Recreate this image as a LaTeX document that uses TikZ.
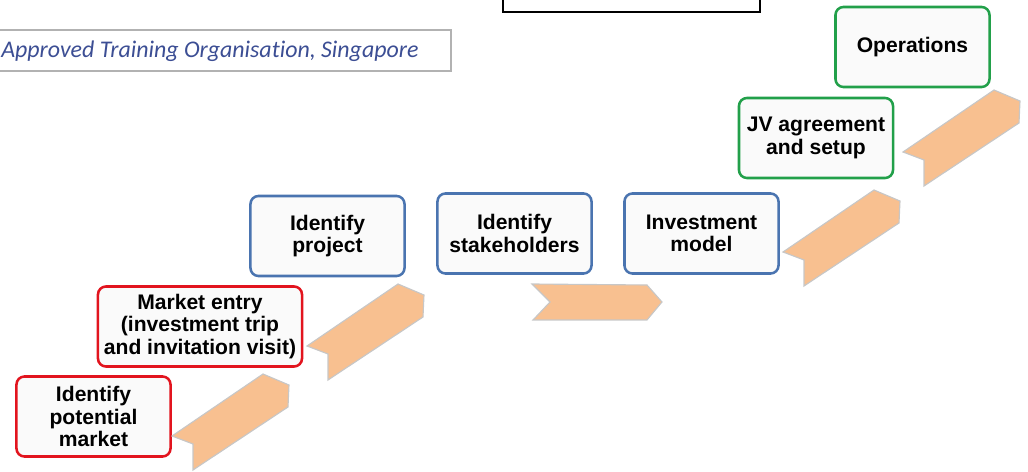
\documentclass[tikz,border=0pt]{standalone}
\usepackage{fontspec}
\setmainfont{Liberation Sans}
\newfontfamily\atofont[Ligatures=NoCommon]{Carlito}
\usetikzlibrary{positioning}

\definecolor{stepred}{RGB}{226,20,30}
\definecolor{stepblue}{RGB}{74,116,176}
\definecolor{stepgreen}{RGB}{34,160,74}
\definecolor{chevfill}{RGB}{248,192,144}
\definecolor{atoblue}{RGB}{60,78,148}

\tikzset{
  stage/.style={draw, rounded corners=0.2cm, line width=1.8pt, fill=black!2,
    minimum width=3.85cm, minimum height=2.0cm, align=center, inner sep=0pt,
    font=\fontsize{15}{16}\selectfont\bfseries},
  chev/.style={fill=chevfill, draw=black!22, line width=0.8pt, line join=miter}
}
% diagonal chevron, #1 = its leftmost corner
\def\diagchev(#1,#2){\draw[chev] (#1,#2) -- ++(21,8) -- ++(0,26) -- ++(95,-63)
  -- ++(1,-22) -- ++(-26,-11) -- cycle;}

\begin{document}
\begin{tikzpicture}[x=0.025cm, y=-0.025cm]
			%%%%% START %%%%%
			\useasboundingbox (0,0) rectangle (1028,472);
			
			% header boxes
			\draw[line width=1.2pt] (503,-30) rectangle (760,12);
			\draw[draw=black!30, line width=0.8pt, fill=white] (-10,30) rectangle (451,71);
			\node[anchor=base west, inner sep=0pt, text=atoblue,
			  font=\atofont\itshape\fontsize{17}{19}\selectfont] (ato) at (1,58)
			  {Approved Training Organisation, Singapore};
			
			% steps
			\node[stage, draw=stepred] (market) at (93.5,416.5) {Identify\\potential\\market};
			\node[stage, draw=stepred, minimum width=5.1cm] (entry) at (200,326.5)
			  {Market entry\\(investment trip\\and invitation visit)};
			\node[stage, draw=stepblue] (project) at (327.5,236) {Identify\\project};
			\node[stage, draw=stepblue] (stake) at (514.5,233.5) {Identify\\stakeholders};
			\node[stage, draw=stepblue] (invest) at (701.5,233.5) {Investment\\model};
			\node[stage, draw=stepgreen] (jv) at (816,138) {JV agreement\\and setup};
			\node[stage, draw=stepgreen] (ops) at (912.5,47) {Operations};
			
			% chevrons
			\diagchev(172,436)
			\diagchev(307,346)
			\draw[chev] (532,284) -- (550,302) -- (533,320) -- (647,320) -- (662,302)
			  -- (647,285) -- cycle;
			\diagchev(783,252)
			\diagchev(903,152)
			
			%%%%% END %%%%%
		\end{tikzpicture}
\end{document}
